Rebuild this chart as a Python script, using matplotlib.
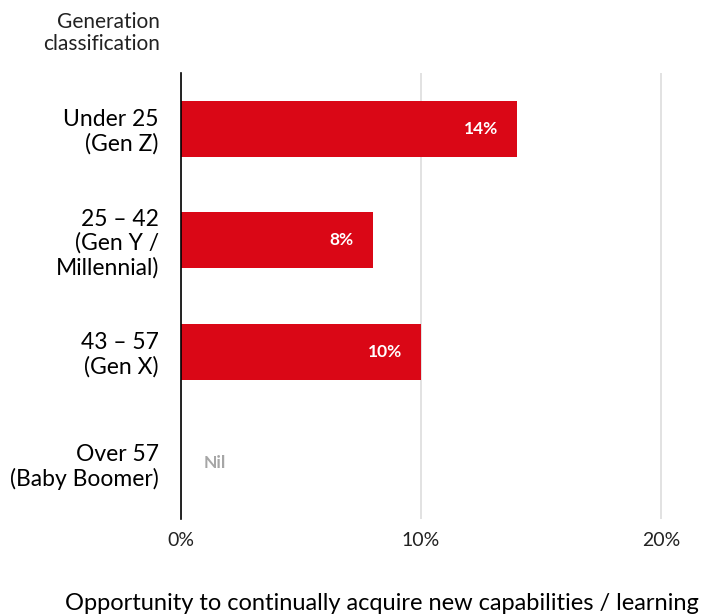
import numpy as np
import matplotlib.pyplot as plt

plt.rcParams["font.family"] = ["Lato", "DejaVu Sans"]

# survey results by generation
groups = ["Under 25\n(Gen Z)", "25 – 42\n(Gen Y /\nMillennial)", "43 – 57\n(Gen X)", "Over 57\n(Baby Boomer)"]
values = [14, 8, 10, 0]
bar_labels = ["14%", "8%", "10%", "Nil"]
xticks = [0, 10, 20]
xtick_labels = ["0%", "10%", "20%"]

RED = "#da0716"

W, H = 708, 616
fig = plt.figure(figsize=(W / 100, H / 100), dpi=100)
ax = fig.add_axes([181 / W, 1 - 519 / H, 519 / W, 446 / H])

y = np.arange(len(groups))
ax.barh(y, values, height=0.5, color=RED, zorder=3)

for yi, v, lab in zip(y, values, bar_labels):
    if v > 0:
        ax.text(v - 0.8, yi, lab, ha="right", va="center", color="white",
                fontsize=12.5, fontweight="bold", zorder=4)
    else:
        ax.text(0.95, yi, lab, ha="left", va="center", color="#a6a6a6",
                fontsize=12.5, fontweight="bold", zorder=4)

ax.set_ylim(len(groups) - 0.5, -0.5)
ax.set_xlim(0, 519 / 24)
ax.set_yticks(y)
ax.set_yticklabels(groups, fontsize=16.5, linespacing=1.15)
ax.set_xticks(xticks)
ax.set_xticklabels(xtick_labels, fontsize=14, color="#222222")
ax.tick_params(axis="both", length=0)
ax.tick_params(axis="y", pad=16)
ax.tick_params(axis="x", pad=9)

ax.grid(axis="x", color="#dddddd", linewidth=1.2, zorder=0)
for s in ["top", "right", "bottom"]:
    ax.spines[s].set_visible(False)
ax.spines["left"].set_color("black")
ax.spines["left"].set_linewidth(1.2)
ax.spines["left"].set_zorder(5)

fig.text(160 / W, 1 - 33 / H, "Generation\nclassification", ha="right", va="center",
         fontsize=15, color="#222222", linespacing=1.1)
fig.text(382 / W, 1 - 604 / H, "Opportunity to continually acquire new capabilities / learning",
         ha="center", va="center", fontsize=17, color="black")

fig.savefig("out.png", dpi=100)
